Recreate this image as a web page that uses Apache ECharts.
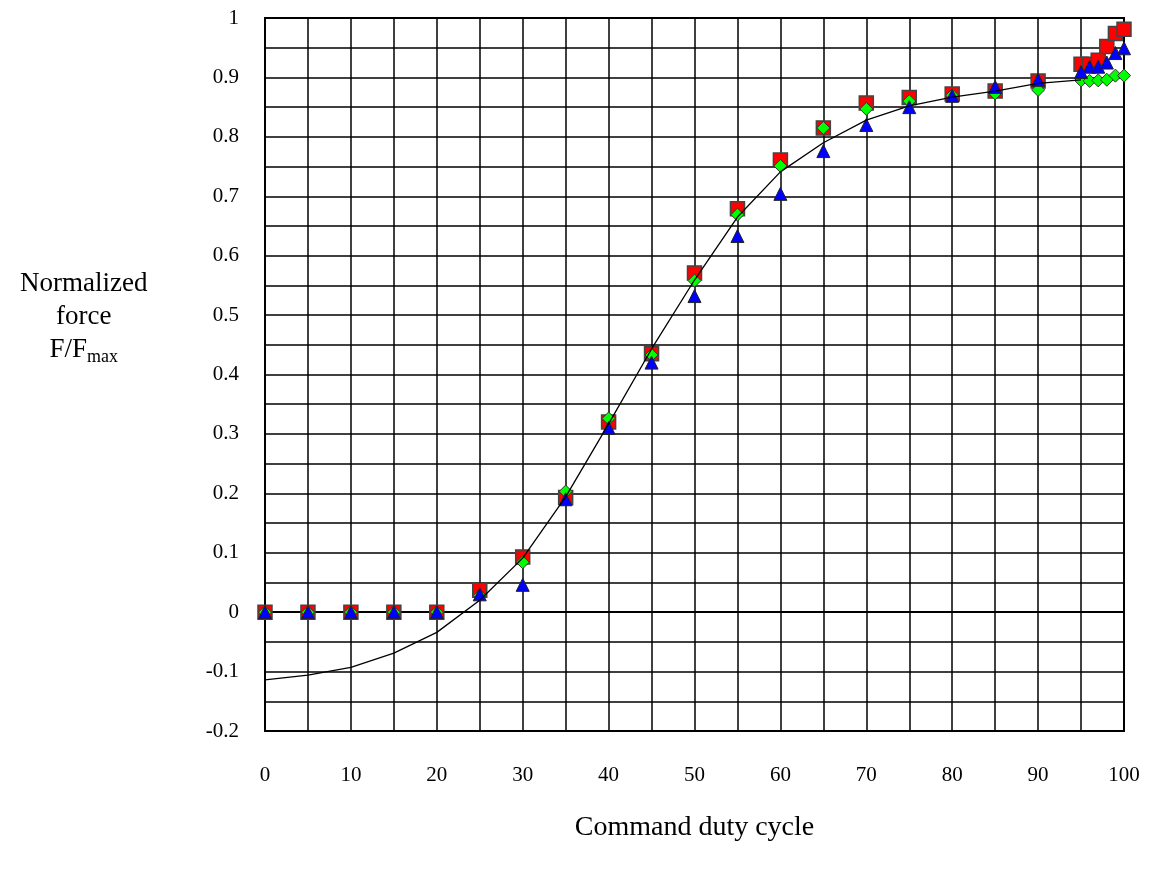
<!DOCTYPE html>
<html>
<head>
<meta charset="utf-8">
<script src="https://cdn.jsdelivr.net/npm/echarts@6/dist/echarts.min.js"></script>
<style>
  html, body { margin: 0; padding: 0; background: #fff; }
  #chart { width: 1155px; height: 872px; }
</style>
</head>
<body>
<div id="chart"></div>
<script>
// duty cycle values (x)
var dutyX = [0, 5, 10, 15, 20, 25, 30, 35, 40, 45, 50, 55, 60, 65, 70, 75, 80, 85, 90, 95, 96, 97, 98, 99, 100]
// measured series (red squares, blue triangles, green diamonds)
var squareY = [0, 0, 0, 0, 0, 0.037, 0.093, 0.193, 0.32, 0.435, 0.571, 0.679, 0.761, 0.815, 0.857, 0.866, 0.872, 0.877, 0.894, 0.922, 0.922, 0.929, 0.952, 0.974, 0.981]
var triangleY = [0, 0, 0, 0, 0, 0.03, 0.046, 0.19, 0.31, 0.42, 0.532, 0.633, 0.704, 0.776, 0.82, 0.85, 0.869, 0.884, 0.896, 0.909, 0.918, 0.918, 0.925, 0.941, 0.949]
var diamondY = [0, 0, 0, 0, 0, 0.028, 0.084, 0.203, 0.326, 0.433, 0.558, 0.669, 0.751, 0.815, 0.847, 0.86, 0.87, 0.873, 0.879, 0.895, 0.894, 0.895, 0.896, 0.903, 0.903]
// fitted curve
var fitX = [0, 5, 10, 15, 20, 25, 30, 35, 40, 45, 50, 55, 60, 65, 70, 75, 80, 85, 90, 95]
var fitY = [-0.114, -0.106, -0.093, -0.069, -0.034, 0.02, 0.091, 0.194, 0.317, 0.443, 0.559, 0.665, 0.741, 0.79, 0.828, 0.852, 0.867, 0.877, 0.89, 0.896]

function pairs (xs, ys) {
  return xs.map(function (x, i) { return [x, ys[i]] })
}

var font = '"Liberation Serif", "Times New Roman", serif'
var chart = echarts.init(document.getElementById('chart'))

var option = {
  backgroundColor: '#fff',
  animation: false,
  grid: {
    left: 265,
    right: 31,
    top: 18,
    bottom: 141,
    show: true,
    borderColor: '#000',
    borderWidth: 2
  },
  xAxis: {
    type: 'value',
    min: 0,
    max: 100,
    interval: 5,
    name: 'Command duty cycle',
    nameLocation: 'middle',
    nameGap: 83,
    nameTextStyle: { fontFamily: font, fontSize: 28, color: '#000' },
    axisLine: { lineStyle: { color: '#000', width: 2 } },
    axisTick: { show: false },
    axisLabel: {
      margin: 34,
      fontFamily: font,
      fontSize: 21,
      color: '#000',
      formatter: function (v) { return v % 10 === 0 ? String(v) : '' }
    },
    splitLine: { show: true, lineStyle: { color: '#000', width: 1.5 } }
  },
  yAxis: {
    type: 'value',
    min: -0.2,
    max: 1,
    interval: 0.05,
    axisLine: { lineStyle: { color: '#000', width: 2 } },
    axisTick: { show: false },
    axisLabel: {
      margin: 26,
      fontFamily: font,
      fontSize: 21,
      color: '#000',
      formatter: function (v) {
        var t = Math.round(v * 10)
        if (Math.abs(t - v * 10) > 1e-6) return ''
        return String(t / 10)
      }
    },
    splitLine: { show: true, lineStyle: { color: '#000', width: 1.5 } }
  },
  graphic: [{
    type: 'text',
    left: 20,
    top: 270,
    style: {
      text: '{a|Normalized}\n{a|force}\n{a|F/F}{s|max}',
      textAlign: 'center',
      rich: {
        a: { fontFamily: font, fontSize: 27, color: '#000', lineHeight: 33 },
        s: { fontFamily: font, fontSize: 18, color: '#000', lineHeight: 33, verticalAlign: 'bottom', padding: [10, 0, 0, 0] }
      }
    }
  }],
  series: [
    {
      type: 'scatter',
      name: 'square',
      symbol: 'rect',
      symbolSize: 14,
      itemStyle: { color: '#ff0000', borderColor: '#444', borderWidth: 1.5, opacity: 1 },
      data: pairs(dutyX, squareY),
      z: 2
    },
    {
      type: 'scatter',
      name: 'diamond',
      symbol: 'diamond',
      symbolSize: 13,
      itemStyle: { color: '#00ff00', borderColor: '#333', borderWidth: 1, opacity: 1 },
      data: pairs(dutyX, diamondY),
      z: 3
    },
    {
      type: 'scatter',
      name: 'triangle',
      symbol: 'triangle',
      symbolSize: 13,
      itemStyle: { color: '#0000ff', borderColor: '#222', borderWidth: 1, opacity: 1 },
      data: pairs(dutyX, triangleY),
      z: 4
    },
    {
      type: 'line',
      name: 'fit',
      showSymbol: false,
      smooth: false,
      lineStyle: { color: '#000', width: 1.3 },
      data: pairs(fitX, fitY),
      z: 5
    }
  ]
}
chart.setOption(option)
</script>
</body>
</html>
